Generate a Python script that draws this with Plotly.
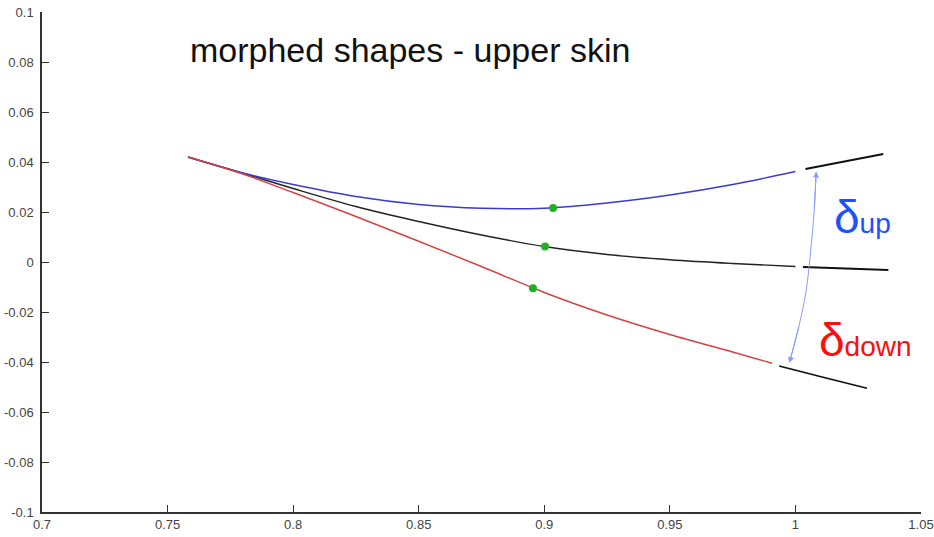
import plotly.graph_objects as go

# --- data ---
mid_x = [0.7581, 0.780, 0.800, 0.825, 0.850, 0.875, 0.900, 0.925, 0.950, 0.975, 1.000]
mid_y = [0.0420, 0.0355, 0.0294, 0.0222, 0.0162, 0.0108, 0.0062, 0.0030, 0.0009, -0.0006, -0.0018]

up_x = [0.7581, 0.780, 0.800, 0.825, 0.850, 0.875, 0.900, 0.925, 0.950, 0.975, 1.000]
up_y = [0.0420, 0.0356, 0.0310, 0.0262, 0.0230, 0.0215, 0.0215, 0.0236, 0.0268, 0.0310, 0.0362]

down_x = [0.7581, 0.780, 0.800, 0.825, 0.850, 0.875, 0.900, 0.925, 0.950, 0.975, 0.9907]
down_y = [0.0420, 0.0352, 0.0278, 0.0182, 0.0083, -0.0018, -0.0122, -0.0212, -0.0290, -0.0360, -0.0405]

ext_up_x = [1.004, 1.020, 1.035]
ext_up_y = [0.0372, 0.0403, 0.0432]
ext_mid_x = [1.003, 1.020, 1.037]
ext_mid_y = [-0.0020, -0.0026, -0.0032]
ext_down_x = [0.9935, 1.011, 1.0285]
ext_down_y = [-0.0416, -0.0461, -0.0505]

dots_x = [0.9035, 0.9003, 0.8955]
dots_y = [0.0216, 0.0062, -0.0105]

arc_x = [1.0082, 1.0075, 1.0063, 1.0043, 1.0015, 0.9979]
arc_y = [0.0350, 0.0208, 0.0068, -0.0112, -0.0252, -0.0392]

x_ticks = [0.7, 0.75, 0.8, 0.85, 0.9, 0.95, 1.0, 1.05]
x_ticktext = ["0.7", "0.75", "0.8", "0.85", "0.9", "0.95", "1", "1.05"]
y_ticks = [0.1, 0.08, 0.06, 0.04, 0.02, 0, -0.02, -0.04, -0.06, -0.08, -0.1]
y_ticktext = ["0.1", "0.08", "0.06", "0.04", "0.02", "0", "-0.02", "-0.04", "-0.06", "-0.08", "-0.1"]

fig = go.Figure()
fig.add_trace(go.Scatter(x=mid_x, y=mid_y, mode="lines", line=dict(color="#222222", width=1.4, shape="spline")))
fig.add_trace(go.Scatter(x=up_x, y=up_y, mode="lines", line=dict(color="#3a3ad0", width=1.4, shape="spline")))
fig.add_trace(go.Scatter(x=down_x, y=down_y, mode="lines", line=dict(color="#d84040", width=1.4, shape="spline")))
for ex, ey in [(ext_up_x, ext_up_y), (ext_mid_x, ext_mid_y), (ext_down_x, ext_down_y)]:
    fig.add_trace(go.Scatter(x=ex, y=ey, mode="lines", line=dict(color="#111111", width=1.8, shape="spline")))
fig.add_trace(go.Scatter(x=dots_x, y=dots_y, mode="markers", marker=dict(color="#22b022", size=8)))
fig.add_trace(go.Scatter(x=arc_x, y=arc_y, mode="lines", line=dict(color="#8a9cff", width=1, shape="spline")))

ann = []
# arrow heads at the ends of the arc
ann.append(dict(x=arc_x[0] + 0.0001, y=arc_y[0] + 0.0012, ax=arc_x[1], ay=arc_y[1], xref="x", yref="y",
                axref="x", ayref="y", text="", showarrow=True, arrowhead=2, arrowsize=1.2,
                arrowwidth=1, arrowcolor="#8a9cff"))
ann.append(dict(x=arc_x[-1] - 0.0003, y=arc_y[-1] - 0.0012, ax=arc_x[-2], ay=arc_y[-2], xref="x", yref="y",
                axref="x", ayref="y", text="", showarrow=True, arrowhead=2, arrowsize=1.2,
                arrowwidth=1, arrowcolor="#8a9cff"))
ann.append(dict(x=0.758, y=0.0848, xref="x", yref="y", xanchor="left", yanchor="middle",
                text="morphed shapes - upper skin", showarrow=False,
                font=dict(family="Liberation Sans, Arial", size=34, color="#111111")))
ann.append(dict(x=1.0146, y=0.0182, xref="x", yref="y", xanchor="left", yanchor="middle",
                text="δ<span style='font-size:28px'>up</span>", showarrow=False,
                font=dict(family="Liberation Sans, Arial", size=46, color="#1f50ff")))
ann.append(dict(x=1.0086, y=-0.0312, xref="x", yref="y", xanchor="left", yanchor="middle",
                text="δ<span style='font-size:28px'>down</span>", showarrow=False,
                font=dict(family="Liberation Sans, Arial", size=46, color="#ff0d0d")))

fig.update_layout(
    width=934, height=537,
    margin=dict(l=42, r=13, t=12, b=25),
    paper_bgcolor="white", plot_bgcolor="white",
    showlegend=False,
    annotations=ann,
    font=dict(family="Liberation Sans, Arial", size=13, color="#444444"),
)
fig.update_xaxes(range=[0.7, 1.05], tickvals=x_ticks, ticktext=x_ticktext, showgrid=False, zeroline=False,
                 showline=True, linecolor="#333333", linewidth=1.5, ticks="inside", ticklen=7,
                 tickcolor="#333333", tickwidth=1.2, automargin=False)
fig.update_yaxes(range=[-0.1, 0.1], tickvals=y_ticks, ticktext=y_ticktext, showgrid=False, zeroline=False,
                 showline=True, linecolor="#333333", linewidth=1.5, ticks="inside", ticklen=7,
                 tickcolor="#333333", tickwidth=1.2, automargin=False, ticklabelstandoff=4)

fig.write_html("out.html")
